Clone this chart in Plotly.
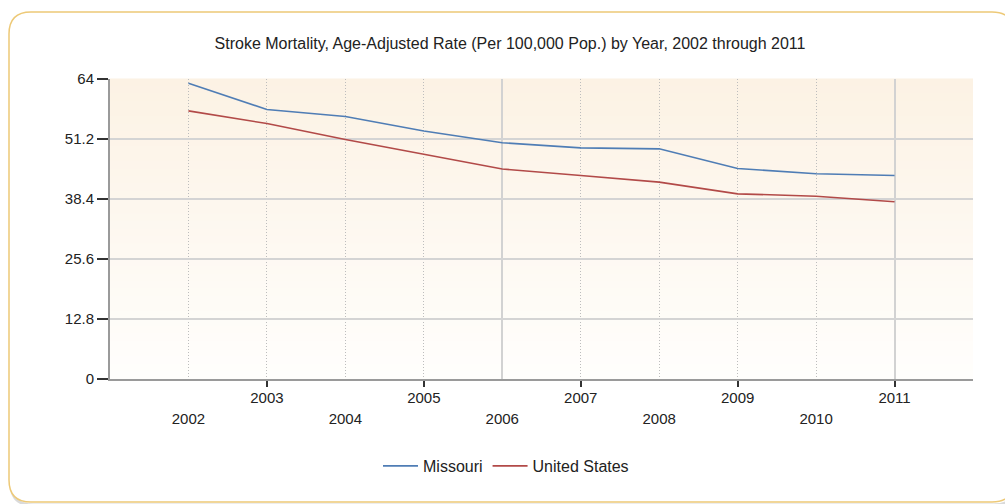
import plotly.graph_objects as go

years = [2002, 2003, 2004, 2005, 2006, 2007, 2008, 2009, 2010, 2011]
missouri = [63.1, 57.5, 56.0, 52.9, 50.4, 49.3, 49.1, 44.9, 43.8, 43.4]
united_states = [57.2, 54.5, 51.1, 47.9, 44.8, 43.4, 42.0, 39.5, 39.0, 37.8]
y_ticks = [0, 12.8, 25.6, 38.4, 51.2, 64]
y_tick_labels = ["0", "12.8", "25.6", "38.4", "51.2", "64"]
title_text = "Stroke Mortality, Age-Adjusted Rate (Per 100,000 Pop.) by Year, 2002 through 2011"

W, H = 1005, 504
L, R, T, B = 110, 32, 79, 125
PW, PH = W - L - R, H - T - B

def px(x):
    return (x - L) / PW

def py(y):
    return (H - B - y) / PH

FONT = "Liberation Sans, Arial, sans-serif"
TXT = "#222222"

fig = go.Figure()
fig.add_trace(go.Scatter(x=years, y=missouri, mode="lines", name="Missouri",
                         line=dict(color="#4F7DB5", width=1.6), xaxis="x", yaxis="y"))
fig.add_trace(go.Scatter(x=years, y=united_states, mode="lines", name="United States",
                         line=dict(color="#B24A48", width=1.6), xaxis="x2", yaxis="y"))

odd = [y for y in years if y % 2 == 1]
even = [y for y in years if y % 2 == 0]
x_min, x_max = years[0] - 1, years[-1] + 1

shapes = []
x0, y0, x1, y1, r = 9, 12, 1014, 502, 22
def rr(x0, y0, x1, y1, r):
    return (f"M {px(x0 + r)},{py(y0)} L {px(x1 - r)},{py(y0)} "
            f"Q {px(x1)},{py(y0)} {px(x1)},{py(y0 + r)} "
            f"L {px(x1)},{py(y1 - r)} Q {px(x1)},{py(y1)} {px(x1 - r)},{py(y1)} "
            f"L {px(x0 + r)},{py(y1)} Q {px(x0)},{py(y1)} {px(x0)},{py(y1 - r)} "
            f"L {px(x0)},{py(y0 + r)} Q {px(x0)},{py(y0)} {px(x0 + r)},{py(y0)} Z")
shapes.append(dict(type="path", xref="paper", yref="paper", path=rr(x0 + 2, y0 + 3, x1 + 2, y1 + 3, r),
                   line=dict(color="rgba(150,150,150,0.35)", width=3), fillcolor="rgba(0,0,0,0)", layer="below"))
shapes.append(dict(type="path", xref="paper", yref="paper", path=rr(x0, y0, x1, y1, r),
                   line=dict(color="#EDC977", width=1.5), fillcolor="white", layer="below"))
n = 40
top = (252, 242, 228)
bot = (255, 254, 252)
for i in range(n):
    t = i / (n - 1)
    c = tuple(round(top[k] + (bot[k] - top[k]) * t) for k in range(3))
    shapes.append(dict(type="rect", xref="x domain", yref="y domain",
                       x0=0, x1=1, y0=1 - (i + 1) / n, y1=1 - i / n + 0.002,
                       fillcolor=f"rgb{c}", line=dict(width=0), layer="below"))

fig.update_layout(
    width=W, height=H,
    margin=dict(l=L, r=R, t=T, b=B),
    paper_bgcolor="white",
    plot_bgcolor="rgba(0,0,0,0)",
    font=dict(family=FONT, size=15, color=TXT),
    title=dict(text=title_text, x=510 / W, xref="container", xanchor="center",
               y=1 - 43 / H, yref="container", yanchor="middle",
               font=dict(family=FONT, size=16, color=TXT)),
    shapes=shapes,
    showlegend=True,
    legend=dict(orientation="h", x=px(378), xanchor="left", y=py(466), yanchor="middle",
                font=dict(family=FONT, size=16, color=TXT), bgcolor="rgba(0,0,0,0)",
                itemwidth=35),
    xaxis=dict(range=[x_min, x_max], tickmode="array", tickvals=odd, ticktext=[str(v) for v in odd],
               ticks="outside", ticklen=6, tickwidth=1.5, tickcolor="#333333",
               showline=True, linecolor="#9A9A9A", linewidth=2,
               showgrid=False, zeroline=False, ticklabelstandoff=-2,
               minor=dict(tickvals=years + [x_max], showgrid=True, griddash="1px,2px",
                          gridcolor="#BDBDBD", gridwidth=1, ticks=""),
               tickfont=dict(family=FONT, size=15, color=TXT)),
    xaxis2=dict(range=[x_min, x_max], overlaying="x", side="bottom", anchor="y",
                tickmode="array", tickvals=even, ticktext=[str(v) for v in even],
                ticks="", showline=False, showgrid=False, zeroline=False,
                ticklabelstandoff=29,
                minor=dict(tickvals=[x_min + 5, x_min + 10], showgrid=True,
                           gridcolor="#D2D2D2", gridwidth=1.5, ticks=""),
                tickfont=dict(family=FONT, size=15, color=TXT)),
    yaxis=dict(range=[0, 64], tickmode="array", tickvals=y_ticks, ticktext=y_tick_labels,
               ticks="outside", ticklen=11, tickwidth=1.5, tickcolor="#333333",
               showline=True, linecolor="#9A9A9A", linewidth=2,
               showgrid=True, gridcolor="#D4D4D4", gridwidth=1.5, zeroline=False,
               tickfont=dict(family=FONT, size=15, color=TXT)),
)

fig.write_html("out.html", config={"displayModeBar": False},
               post_script="document.body.style.margin='0';document.body.style.overflow='hidden';")
